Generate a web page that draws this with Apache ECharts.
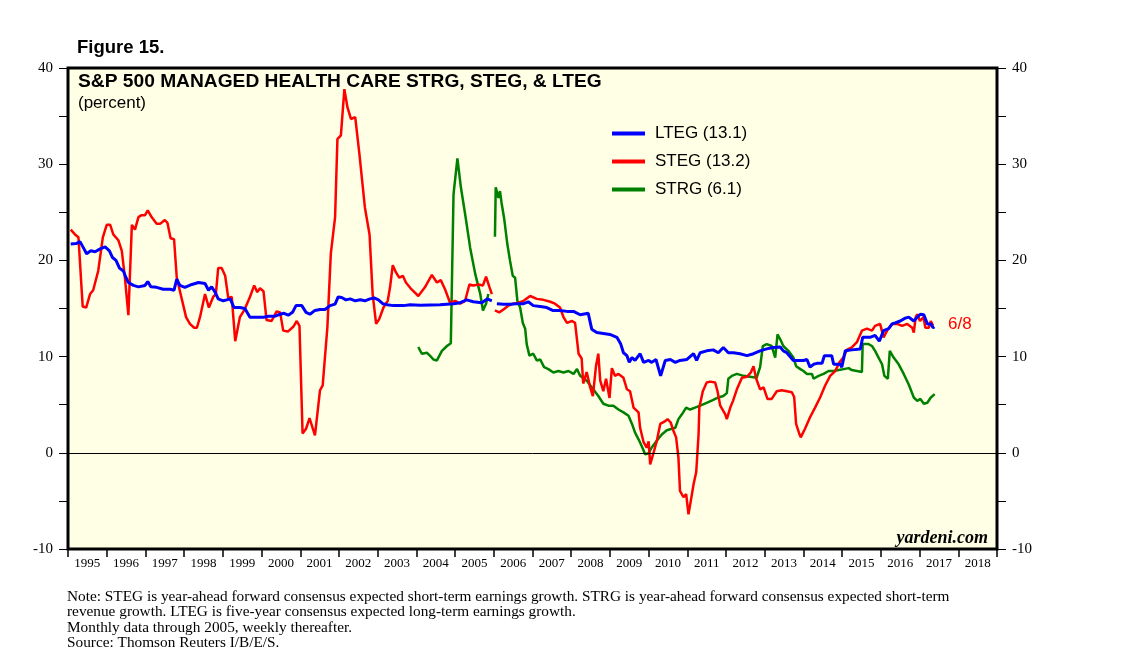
<!DOCTYPE html>
<html>
<head>
<meta charset="utf-8">
<script src="https://cdn.jsdelivr.net/npm/echarts@6/dist/echarts.min.js"></script>
<style>
  html, body { margin: 0; padding: 0; background: #fff; }
  #chart { width: 1138px; height: 664px; }
</style>
</head>
<body>
<div id="chart"></div>
<script>
// ---- Data (decimal year, percent) ----
const yearLabels = ['1995','1996','1997','1998','1999','2000','2001','2002','2003','2004','2005','2006','2007','2008','2009','2010','2011','2012','2013','2014','2015','2016','2017','2018'];

const stegMonthly = [[1995.07,23.2],[1995.18,22.7],[1995.27,22.4],[1995.38,15.2],[1995.47,15.1],[1995.57,16.5],[1995.65,16.9],[1995.78,18.9],[1995.9,22.4],[1996.0,23.7],[1996.09,23.7],[1996.17,22.7],[1996.3,22.1],[1996.39,21.0],[1996.47,18.2],[1996.56,14.3],[1996.65,23.7],[1996.73,23.2],[1996.82,24.5],[1996.9,24.7],[1996.99,24.7],[1997.06,25.2],[1997.16,24.5],[1997.29,23.8],[1997.38,23.8],[1997.5,24.2],[1997.57,23.9],[1997.65,22.3],[1997.74,22.2],[1997.81,18.2],[1998.05,14.1],[1998.15,13.4],[1998.26,13.0],[1998.33,13.0],[1998.41,14.1],[1998.54,16.5],[1998.64,15.1],[1998.75,16.2],[1998.82,16.5],[1998.88,19.2],[1998.97,19.2],[1999.06,18.4],[1999.14,16.1],[1999.23,16.2],[1999.32,11.6],[1999.44,14.1],[1999.55,14.8],[1999.7,16.2],[1999.81,17.4],[1999.89,16.7],[1999.96,17.1],[2000.05,16.8],[2000.13,13.8],[2000.26,13.7],[2000.39,14.7],[2000.48,14.6],[2000.56,12.7],[2000.68,12.6],[2000.82,13.1],[2000.91,13.7],[2000.98,13.2],[2001.06,2.0],[2001.15,2.5],[2001.24,3.6],[2001.38,1.8],[2001.51,6.5],[2001.58,7.0],[2001.7,13.0],[2001.79,20.7],[2001.9,24.5],[2001.96,32.6],[2002.05,33.0],[2002.14,37.8],[2002.22,35.9],[2002.31,34.7],[2002.42,34.9],[2002.53,31.0],[2002.67,25.5],[2002.79,22.7],[2002.87,16.5],[2002.96,13.4],[2003.04,13.9],[2003.15,15.1],[2003.26,15.8],[2003.32,17.2],[2003.39,19.5],[2003.48,18.7],[2003.56,18.2],[2003.65,18.4],[2003.73,17.7],[2003.85,17.1],[2003.95,16.7],[2004.05,16.3],[2004.22,17.2],[2004.4,18.5],[2004.53,17.7],[2004.63,17.95],[2004.74,17.0],[2004.87,15.6],[2005.0,15.8],[2005.13,15.5],[2005.26,15.8],[2005.37,17.5],[2005.47,17.4],[2005.6,17.5],[2005.72,17.4],[2005.8,18.3],[2005.89,17.2],[2005.95,16.5]];

const stegWeekly = [[2006.03,14.8],[2006.14,14.6],[2006.25,14.9],[2006.38,15.3],[2006.5,15.5],[2006.64,15.6],[2006.77,15.8],[2006.94,16.3],[2007.11,16.0],[2007.28,15.9],[2007.46,15.7],[2007.58,15.5],[2007.71,15.1],[2007.8,14.1],[2007.89,13.5],[2008.02,13.7],[2008.1,13.5],[2008.19,10.3],[2008.27,9.8],[2008.31,7.2],[2008.4,8.4],[2008.49,6.8],[2008.56,5.9],[2008.64,9.0],[2008.7,10.3],[2008.75,7.5],[2008.83,6.4],[2008.9,7.7],[2008.99,5.7],[2009.05,8.8],[2009.13,8.0],[2009.22,8.2],[2009.35,7.8],[2009.44,6.6],[2009.52,6.4],[2009.61,4.7],[2009.74,4.2],[2009.78,2.6],[2009.87,1.1],[2009.95,0.55],[2010.0,1.2],[2010.04,-1.2],[2010.12,-0.1],[2010.21,1.2],[2010.3,3.0],[2010.43,3.3],[2010.49,3.5],[2010.57,3.15],[2010.64,2.3],[2010.71,1.6],[2010.77,-0.5],[2010.81,-3.95],[2010.9,-4.6],[2010.97,-4.3],[2011.03,-6.4],[2011.09,-5.0],[2011.16,-3.3],[2011.23,-2.0],[2011.29,1.9],[2011.31,4.7],[2011.4,6.4],[2011.5,7.3],[2011.59,7.4],[2011.72,7.3],[2011.78,6.4],[2011.85,4.9],[2011.98,4.0],[2012.02,3.5],[2012.11,4.7],[2012.18,5.4],[2012.28,6.6],[2012.41,7.8],[2012.54,7.9],[2012.64,8.35],[2012.71,9.0],[2012.78,7.7],[2012.88,6.6],[2012.97,6.8],[2013.07,5.6],[2013.18,5.6],[2013.31,6.4],[2013.44,6.5],[2013.57,6.4],[2013.7,6.3],[2013.76,5.8],[2013.81,3.0],[2013.9,1.9],[2013.93,1.6],[2014.04,2.5],[2014.17,3.7],[2014.3,4.7],[2014.43,5.75],[2014.56,7.0],[2014.69,8.0],[2014.82,8.5],[2014.93,9.4],[2015.03,9.9],[2015.12,10.7],[2015.25,10.95],[2015.38,11.5],[2015.51,12.7],[2015.64,12.9],[2015.77,12.7],[2015.85,13.2],[2015.98,13.4],[2016.07,12.0],[2016.16,12.7],[2016.29,13.4],[2016.42,13.4],[2016.55,13.2],[2016.68,13.4],[2016.81,13.0],[2016.85,12.5],[2016.9,14.1],[2016.94,14.4],[2017.01,13.7],[2017.1,14.1],[2017.15,13.0],[2017.24,13.0],[2017.29,13.7],[2017.35,13.2]];

const ltegMonthly = [[1995.07,21.7],[1995.21,21.75],[1995.31,21.95],[1995.4,21.3],[1995.48,20.7],[1995.59,21.0],[1995.7,20.9],[1995.83,21.2],[1995.96,21.4],[1996.07,21.0],[1996.15,20.3],[1996.24,20.0],[1996.33,19.2],[1996.43,18.9],[1996.5,18.2],[1996.56,17.7],[1996.69,17.4],[1996.82,17.25],[1996.99,17.4],[1997.06,17.8],[1997.14,17.25],[1997.29,17.2],[1997.46,17.0],[1997.64,17.0],[1997.74,16.9],[1997.81,18.05],[1997.89,17.4],[1998.02,17.2],[1998.2,17.5],[1998.37,17.7],[1998.54,17.6],[1998.63,16.9],[1998.71,17.25],[1998.8,16.7],[1998.88,16.0],[1999.01,15.8],[1999.1,15.9],[1999.19,16.0],[1999.29,15.1],[1999.44,15.1],[1999.57,15.0],[1999.7,14.1],[1999.88,14.1],[2000.05,14.1],[2000.18,14.2],[2000.35,14.2],[2000.48,14.4],[2000.58,14.5],[2000.69,14.3],[2000.8,14.6],[2000.89,15.3],[2001.04,15.3],[2001.15,14.6],[2001.25,14.4],[2001.38,14.8],[2001.51,14.9],[2001.64,14.9],[2001.77,15.3],[2001.9,15.45],[2001.98,16.2],[2002.07,16.15],[2002.18,15.9],[2002.29,16.0],[2002.42,15.8],[2002.55,15.9],[2002.67,15.8],[2002.8,16.0],[2002.91,16.1],[2003.02,15.9],[2003.13,15.5],[2003.24,15.4],[2003.41,15.3],[2003.67,15.3],[2003.84,15.4],[2004.1,15.35],[2004.61,15.4],[2004.96,15.5],[2005.13,15.6],[2005.3,15.9],[2005.47,15.7],[2005.69,15.6],[2005.83,16.0],[2005.95,15.8]];

const ltegWeekly = [[2006.08,15.5],[2006.25,15.45],[2006.42,15.45],[2006.59,15.5],[2006.77,15.5],[2006.89,15.7],[2007.02,15.3],[2007.2,15.2],[2007.37,15.1],[2007.52,14.8],[2007.71,14.8],[2007.89,14.7],[2008.06,14.7],[2008.23,14.35],[2008.44,14.5],[2008.53,12.85],[2008.66,12.5],[2008.83,12.4],[2009.0,12.3],[2009.18,12.0],[2009.28,11.3],[2009.35,10.4],[2009.44,10.1],[2009.5,9.4],[2009.57,9.9],[2009.65,9.6],[2009.78,10.3],[2009.87,9.4],[2010.0,9.6],[2010.08,9.4],[2010.19,9.7],[2010.31,8.0],[2010.43,9.6],[2010.56,9.7],[2010.69,9.4],[2010.81,9.6],[2010.99,9.7],[2011.16,10.3],[2011.24,9.6],[2011.33,10.4],[2011.5,10.6],[2011.67,10.7],[2011.8,10.4],[2011.93,10.95],[2012.06,10.4],[2012.19,10.4],[2012.36,10.3],[2012.54,10.1],[2012.71,10.3],[2012.88,10.6],[2013.05,10.8],[2013.22,10.95],[2013.4,11.0],[2013.48,10.6],[2013.57,10.4],[2013.74,9.6],[2014.0,9.6],[2014.09,9.7],[2014.17,8.9],[2014.26,9.2],[2014.35,9.3],[2014.48,9.3],[2014.54,10.1],[2014.73,10.1],[2014.78,9.2],[2014.95,9.2],[2014.99,8.9],[2015.08,10.6],[2015.25,10.7],[2015.47,10.8],[2015.53,12.0],[2015.72,12.0],[2015.85,12.2],[2015.96,11.6],[2016.07,12.7],[2016.2,12.9],[2016.29,13.4],[2016.37,13.5],[2016.5,13.7],[2016.63,14.0],[2016.72,14.1],[2016.85,13.7],[2016.94,14.1],[2017.02,14.4],[2017.11,14.35],[2017.2,13.4],[2017.29,13.4],[2017.35,13.0],[2017.38,13.1]];

const strgMonthly = [[2004.05,11.0],[2004.14,10.3],[2004.27,10.4],[2004.35,10.1],[2004.44,9.7],[2004.53,9.6],[2004.66,10.6],[2004.79,11.1],[2004.89,11.4],[2004.96,26.9],[2005.06,30.6],[2005.15,27.6],[2005.26,24.8],[2005.39,21.3],[2005.52,18.6],[2005.65,16.5],[2005.72,14.8],[2005.8,15.5],[2005.86,16.5]];

const strgWeekly = [[2006.03,22.45],[2006.05,27.6],[2006.09,27.75],[2006.12,26.5],[2006.16,27.2],[2006.2,26.0],[2006.27,24.3],[2006.32,24.1],[2006.35,21.7],[2006.42,19.95],[2006.49,18.4],[2006.55,18.2],[2006.61,15.8],[2006.68,15.1],[2006.75,13.5],[2006.81,12.9],[2006.85,11.3],[2006.92,10.1],[2007.02,10.3],[2007.11,9.6],[2007.2,9.7],[2007.3,8.9],[2007.41,8.7],[2007.54,8.35],[2007.67,8.5],[2007.8,8.35],[2007.93,8.5],[2008.06,8.2],[2008.15,8.7],[2008.23,8.0],[2008.4,7.5],[2008.57,6.6],[2008.7,5.9],[2008.83,5.1],[2008.96,4.9],[2009.09,4.9],[2009.22,4.5],[2009.35,4.2],[2009.48,3.85],[2009.57,3.0],[2009.65,2.1],[2009.74,1.4],[2009.82,0.7],[2009.91,-0.15],[2010.0,-0.05],[2010.08,0.55],[2010.21,1.25],[2010.34,1.9],[2010.47,2.35],[2010.6,2.5],[2010.69,2.6],[2010.77,3.5],[2010.86,4.0],[2010.97,4.7],[2011.07,4.5],[2011.2,4.7],[2011.33,4.9],[2011.5,5.2],[2011.67,5.5],[2011.8,5.75],[2011.93,5.9],[2012.02,6.2],[2012.06,7.7],[2012.15,8.0],[2012.28,8.2],[2012.45,8.0],[2012.62,7.9],[2012.79,7.8],[2012.88,8.9],[2012.95,11.1],[2013.05,11.3],[2013.18,11.1],[2013.27,9.9],[2013.33,12.3],[2013.4,11.8],[2013.48,11.1],[2013.61,10.6],[2013.74,9.9],[2013.81,9.0],[2013.92,8.7],[2014.0,8.5],[2014.09,8.2],[2014.22,8.2],[2014.26,7.7],[2014.39,8.0],[2014.52,8.2],[2014.65,8.5],[2014.78,8.5],[2014.91,8.6],[2015.04,8.7],[2015.17,8.8],[2015.25,8.6],[2015.38,8.5],[2015.51,8.4],[2015.53,11.3],[2015.68,11.3],[2015.77,11.1],[2015.85,10.6],[2015.94,9.9],[2016.03,9.2],[2016.09,8.0],[2016.18,7.7],[2016.23,10.6],[2016.33,9.9],[2016.46,9.2],[2016.59,8.2],[2016.72,7.1],[2016.85,5.75],[2016.94,5.4],[2017.02,5.6],[2017.11,5.1],[2017.2,5.2],[2017.29,5.75],[2017.39,6.1]];

const seriesNames = ['LTEG (13.1)', 'STEG (13.2)', 'STRG (6.1)'];
const noteLines = [
  'Note: STEG is year-ahead forward consensus expected short-term earnings growth. STRG is year-ahead forward consensus expected short-term',
  'revenue growth. LTEG is five-year consensus expected long-term earnings growth.',
  'Monthly data through 2005, weekly thereafter.',
  'Source: Thomson Reuters I/B/E/S.'
];

// ---- Chart ----
const GAP = [[2006.0, '-']];
const chart = echarts.init(document.getElementById('chart'), null, { renderer: 'canvas' });
const serif = '"Liberation Serif", "Times New Roman", serif';
const sans = '"Liberation Sans", Arial, Helvetica, sans-serif';

const yAxisCommon = {
  type: 'value', min: -10, max: 40, interval: 5,
  axisLine: { show: false },
  axisTick: { show: true, length: 9, lineStyle: { color: '#000', width: 1 } },
  splitLine: { show: false },
  axisLabel: {
    margin: 15, color: '#000', fontFamily: serif, fontSize: 15,
    formatter: v => (v % 10 === 0 ? String(v) : '')
  }
};

const noteGraphics = noteLines.map((t, i) => ({
  type: 'text', x: 67, y: [597, 612, 628, 643][i],
  style: { text: t, font: '15.3px ' + serif, fill: '#000', textVerticalAlign: 'middle' }
}));

chart.setOption({
  animation: false,
  backgroundColor: '#ffffff',
  grid: { left: 68, top: 68, right: 141, bottom: 115, show: true, backgroundColor: '#FFFFE5', borderColor: '#000', borderWidth: 3 },
  xAxis: [
    { type: 'value', min: 1995, max: 2019, show: false },
    {
      type: 'category', data: yearLabels, position: 'bottom', boundaryGap: true,
      axisLine: { show: false, onZero: false },
      axisTick: { show: true, length: 8, lineStyle: { color: '#000', width: 1.5 } },
      axisLabel: { margin: 8, color: '#000', fontFamily: serif, fontSize: 13, interval: 0 },
      splitLine: { show: false }
    }
  ],
  yAxis: [
    Object.assign({}, yAxisCommon, { position: 'left' }),
    Object.assign({}, yAxisCommon, { position: 'right' })
  ],
  legend: {
    data: seriesNames, orient: 'vertical', left: 612, top: 125, padding: 0,
    icon: 'rect', itemWidth: 33, itemHeight: 4, itemGap: 11,
    textStyle: { fontFamily: sans, fontSize: 17, color: '#000', padding: [0, 0, 0, 5] }
  },
  series: [
    {
      name: seriesNames[2], type: 'line', xAxisIndex: 0, yAxisIndex: 0,
      data: strgMonthly.concat(GAP, strgWeekly), showSymbol: false, connectNulls: false,
      lineStyle: { color: '#008000', width: 2.5 }, itemStyle: { color: '#008000' },
      markLine: { silent: true, symbol: 'none', label: { show: false },
        lineStyle: { color: '#000', width: 1, type: 'solid' }, data: [{ yAxis: 0 }] }
    },
    {
      name: seriesNames[1], type: 'line', xAxisIndex: 0, yAxisIndex: 0,
      data: stegMonthly.concat(GAP, stegWeekly), showSymbol: false, connectNulls: false,
      lineStyle: { color: '#FF0000', width: 2.5 }, itemStyle: { color: '#FF0000' }
    },
    {
      name: seriesNames[0], type: 'line', xAxisIndex: 0, yAxisIndex: 0,
      data: ltegMonthly.concat(GAP, ltegWeekly), showSymbol: false, connectNulls: false,
      lineStyle: { color: '#0000FF', width: 3 }, itemStyle: { color: '#0000FF' }
    }
  ],
  graphic: [
    { type: 'text', x: 77, y: 48, style: { text: 'Figure 15.', font: 'bold 18.5px ' + sans, fill: '#000', textVerticalAlign: 'middle' } },
    { type: 'text', x: 78, y: 82, z: 10, style: { text: 'S&P 500 MANAGED HEALTH CARE STRG, STEG, & LTEG', font: 'bold 19.2px ' + sans, fill: '#000', textVerticalAlign: 'middle' } },
    { type: 'text', x: 78, y: 103, z: 10, style: { text: '(percent)', font: '17px ' + sans, fill: '#000', textVerticalAlign: 'middle' } },
    { type: 'text', x: 948, y: 324, z: 10, style: { text: '6/8', font: '17px ' + sans, fill: '#FF0000', textVerticalAlign: 'middle' } },
    { type: 'text', x: 988, y: 538, z: 10, style: { text: 'yardeni.com', font: 'bold italic 18px ' + serif, fill: '#000', textAlign: 'right', textVerticalAlign: 'middle' } }
  ].concat(noteGraphics)
});
</script>
</body>
</html>
